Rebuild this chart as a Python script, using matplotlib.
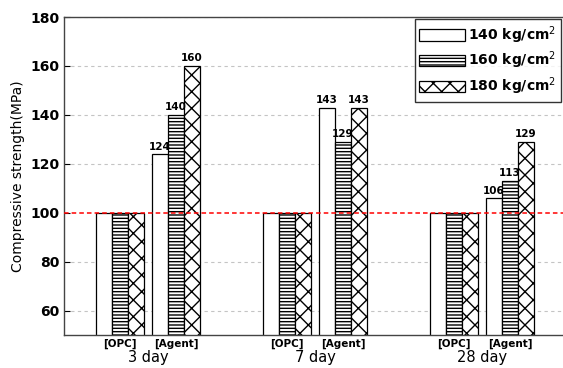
import numpy as np
import matplotlib.pyplot as plt
import matplotlib.transforms as mtransforms

days = ["3 day", "7 day", "28 day"]
groups = ["[OPC]", "[Agent]"]
series = ["140 kg/cm$^2$", "160 kg/cm$^2$", "180 kg/cm$^2$"]

# OPC reference = 100 for every age; agent values per series
opc = [100, 100, 100]
agent_140 = [124, 143, 106]
agent_160 = [140, 129, 113]
agent_180 = [160, 143, 129]
agent = [agent_140, agent_160, agent_180]

hatches = ["", "-----", "xx"]

fig = plt.figure(figsize=(5.63, 3.68), dpi=100)
ax = fig.add_axes([0.1137, 0.0897, 0.8863, 0.8641])

bw = 0.0958
grp_off = 0.168
x_day = np.arange(len(days))

for s in range(3):
    xo = x_day - grp_off + (s - 1) * bw
    xa = x_day + grp_off + (s - 1) * bw
    ax.bar(xo, opc, bw, bottom=0, color="white", edgecolor="black",
           hatch=hatches[s], linewidth=0.9, zorder=2, label=series[s])
    ax.bar(xa, agent[s], bw, color="white", edgecolor="black",
           hatch=hatches[s], linewidth=0.9, zorder=2)
    for x, v in zip(xa, agent[s]):
        ax.text(x, v + 1, str(v), ha="center", va="bottom", fontsize=7.5,
                fontweight="bold", zorder=4)

ax.set_xlim(-0.503, 2.485)
ax.set_ylim(50, 180)
ax.set_yticks(range(60, 181, 20))
ax.tick_params(axis="y", direction="in", length=4, labelsize=10, pad=3)
for lb in ax.get_yticklabels():
    lb.set_fontweight("bold")
ax.set_xticks([])
for y in range(60, 181, 20):
    if y != 100:
        ax.axhline(y, color="#c4c4c4", linestyle=(0, (3, 3)), linewidth=0.8, zorder=1)
# OPC = 100 reference line
ax.axhline(100, color="#ff0000", linestyle=(0, (3, 2)), linewidth=1.1, zorder=3)

ax.spines["right"].set_visible(False)
for sp in ["left", "bottom", "top"]:
    ax.spines[sp].set_linewidth(1.0)
    ax.spines[sp].set_color("#444444")

trans = mtransforms.blended_transform_factory(ax.transData, ax.transAxes)
for i, d in enumerate(days):
    ax.text(i - grp_off, -0.012, groups[0], transform=trans, ha="center", va="top",
            fontsize=7.5, fontweight="bold")
    ax.text(i + grp_off, -0.012, groups[1], transform=trans, ha="center", va="top",
            fontsize=7.5, fontweight="bold")
    ax.text(i, -0.047, d, transform=trans, ha="center", va="top", fontsize=10.5)

ax.set_ylabel("Compressive strength(MPa)", fontsize=10, labelpad=4)

leg = ax.legend(loc="upper right", frameon=True, fancybox=False,
                edgecolor="black", handlelength=3.3, handleheight=0.9,
                borderaxespad=0.15, labelspacing=0.3, handletextpad=0.2,
                borderpad=0.35, prop={"weight": "bold", "size": 10})
leg.get_frame().set_linewidth(1.0)
leg.set_zorder(5)

fig.savefig("out.png", dpi=100)
